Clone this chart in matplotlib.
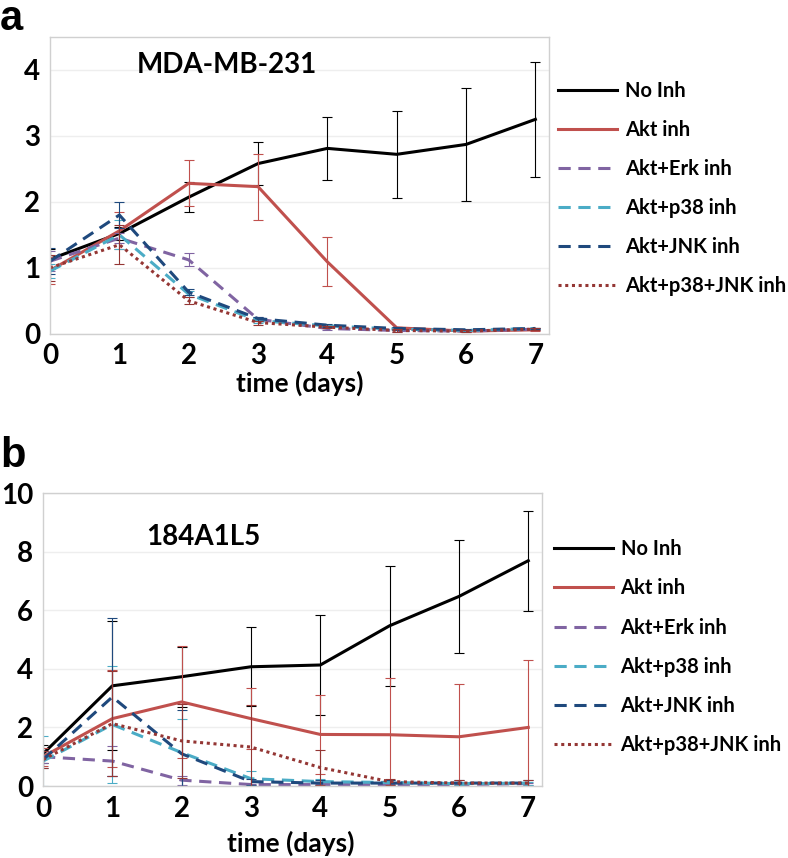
import matplotlib
matplotlib.use("Agg")
import matplotlib.pyplot as plt

plt.rcParams['font.family'] = ['Lato', 'DejaVu Sans']
plt.rcParams['font.weight'] = 'bold'

days = [0, 1, 2, 3, 4, 5, 6, 7]
series_names = ["No Inh", "Akt inh", "Akt+Erk inh", "Akt+p38 inh", "Akt+JNK inh", "Akt+p38+JNK inh"]

# panel a: MDA-MB-231
a_no_inh = [1.13, 1.52, 2.07, 2.58, 2.81, 2.72, 2.87, 3.25]
a_no_inh_err = [0.15, 0.1, 0.23, 0.33, 0.48, 0.66, 0.85, 0.87]
a_akt = [0.96, 1.56, 2.28, 2.23, 1.09, 0.09, 0.04, 0.06]
a_akt_err = [0.2, 0.28, 0.35, 0.5, 0.37, 0.02, 0.01, 0.02]
a_erk = [1.1, 1.45, 1.12, 0.22, 0.08, 0.05, 0.04, 0.07]
a_erk_err = [0.15, 0.08, 0.1, 0.03, 0.02, 0.02, 0.01, 0.01]
a_p38 = [0.95, 1.5, 0.6, 0.2, 0.12, 0.07, 0.05, 0.08]
a_p38_err = [0.1, 0.22, 0.05, 0.03, 0.02, 0.02, 0.01, 0.01]
a_jnk = [1.1, 1.8, 0.63, 0.23, 0.13, 0.08, 0.06, 0.08]
a_jnk_err = [0.2, 0.2, 0.05, 0.03, 0.02, 0.02, 0.01, 0.01]
a_triple = [1.0, 1.35, 0.5, 0.17, 0.1, 0.05, 0.04, 0.07]
a_triple_err = [0.2, 0.3, 0.05, 0.03, 0.02, 0.02, 0.01, 0.01]

# panel b: 184A1L5
b_no_inh = [1.1, 3.42, 3.73, 4.07, 4.13, 5.47, 6.47, 7.69]
b_no_inh_err = [0.3, 2.2, 1.02, 1.35, 1.7, 2.05, 1.93, 1.7]
b_akt = [1.0, 2.3, 2.87, 2.3, 1.76, 1.75, 1.68, 2.0]
b_akt_err = [0.3, 1.66, 1.9, 1.05, 1.36, 1.95, 1.8, 2.3]
b_erk = [1.0, 0.85, 0.2, 0.05, 0.05, 0.05, 0.05, 0.08]
b_erk_err = [0.2, 0.5, 0.15, 0.03, 0.03, 0.03, 0.03, 0.03]
b_p38 = [0.85, 2.1, 1.14, 0.25, 0.15, 0.12, 0.08, 0.1]
b_p38_err = [0.85, 2.0, 1.15, 0.26, 0.1, 0.08, 0.05, 0.05]
b_jnk = [0.9, 3.04, 1.1, 0.15, 0.1, 0.1, 0.1, 0.1]
b_jnk_err = [0.3, 2.7, 1.5, 0.1, 0.1, 0.1, 0.1, 0.1]
b_triple = [0.9, 2.13, 1.54, 1.33, 0.63, 0.15, 0.1, 0.1]
b_triple_err = [0.3, 1.8, 1.25, 1.45, 0.6, 0.1, 0.1, 0.1]

colors = ["#000000", "#C0504D", "#8064A2", "#4BACC6", "#1F497D", "#943634"]
styles = ["-", "-", (0, (4, 2.5)), (0, (4, 2.5)), (0, (4, 2.5)), (0, (1, 1.2))]

fig = plt.figure(figsize=(7.88, 8.58), dpi=100)


def draw_panel(rect, vals, errs, ymax, title, title_xy, letter, letter_xy, xlabel_xy, leg_anchor):
    ax = fig.add_axes(rect)
    for name, v, e, c, ls in zip(series_names, vals, errs, colors, styles):
        ax.errorbar(days, v, yerr=e, color=c, lw=0, elinewidth=0.8, capsize=3.5, capthick=0.8)
        ax.plot(days, v, color=c, lw=2.2, ls=ls, label=name)
    ax.set_xlim(0, 7.2)
    ax.set_ylim(0, ymax)
    ax.set_xticks(days)
    ax.grid(axis='y', color='#EEEEEE', lw=1)
    ax.set_axisbelow(True)
    for s in ax.spines.values():
        s.set_color('#D0D0D0')
        s.set_linewidth(1)
    ax.tick_params(length=0, labelsize=20, pad=7)
    for lab in ax.get_xticklabels() + ax.get_yticklabels():
        lab.set_fontweight('bold')
    fig.text(title_xy[0], title_xy[1], title, fontsize=20, fontweight='bold',
             ha='center', va='center')
    fig.text(letter_xy[0], letter_xy[1], letter, fontsize=30, fontweight='bold',
             family=['Liberation Sans', 'DejaVu Sans'], ha='left', va='center')
    fig.text(xlabel_xy[0], xlabel_xy[1], "time (days)", fontsize=19, fontweight='bold',
             ha='center', va='center')
    leg = ax.legend(loc='upper left', bbox_to_anchor=leg_anchor, frameon=False,
                    borderpad=0, borderaxespad=0,
                    fontsize=14.5, handlelength=2.9, handletextpad=0.4, labelspacing=0.95)
    for t in leg.get_texts():
        t.set_fontweight('bold')
    return ax


draw_panel([0.0635, 0.611, 0.6335, 0.346],
           [a_no_inh, a_akt, a_erk, a_p38, a_jnk, a_triple],
           [a_no_inh_err, a_akt_err, a_erk_err, a_p38_err, a_jnk_err, a_triple_err],
           4.5, "MDA-MB-231", (0.288, 0.924), "a", (0.0, 0.978), (0.381, 0.553), (1.018, 0.852))

draw_panel([0.0546, 0.0839, 0.6334, 0.3415],
           [b_no_inh, b_akt, b_erk, b_p38, b_jnk, b_triple],
           [b_no_inh_err, b_akt_err, b_erk_err, b_p38_err, b_jnk_err, b_triple_err],
           10, "184A1L5", (0.258, 0.374), "b", (0.0, 0.468), (0.369, 0.017), (1.024, 0.842))

fig.savefig("out.png", dpi=100)
